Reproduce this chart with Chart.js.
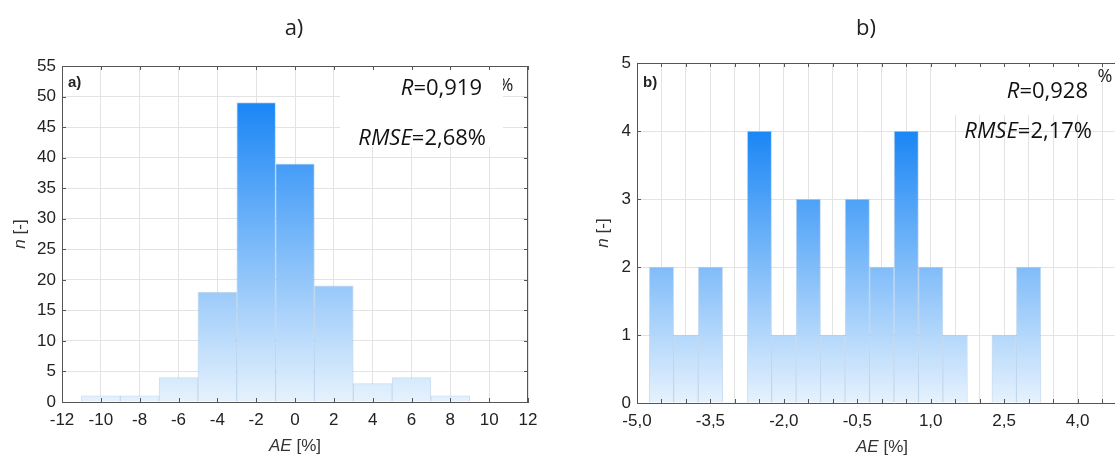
<!DOCTYPE html>
<html lang="en">
<head>
    <meta charset="UTF-8">
    <title>AE histograms</title>
    <script src="https://cdn.jsdelivr.net/npm/chart.js"></script>
    <style>
        html, body { margin: 0; padding: 0; width: 1115px; height: 457px; overflow: hidden; background: #fff; }
        .panel { position: absolute; top: 0; height: 457px; }
        #panelA { left: 0; width: 560px; }
        #panelB { left: 560px; width: 600px; }   /* runs past the window edge, like the cropped figure */
    </style>
</head>
<body>
    <div class="panel" id="panelA"><canvas id="histA"></canvas></div>
    <div class="panel" id="panelB"><canvas id="histB"></canvas></div>

    <script>
        // a) bin centres (2 % wide bins) and counts
        const binsA = [-10, -8, -6, -4, -2, 0, 2, 4, 6, 8];
        const countsA = [1, 1, 4, 18, 49, 39, 19, 3, 4, 1];

        // b) bin centres (0.5 % wide bins) and counts
        const binsB = [-4.5, -4, -3.5, -3, -2.5, -2, -1.5, -1, -0.5, 0, 0.5, 1, 1.5, 2, 2.5, 3];
        const countsB = [2, 1, 2, 0, 4, 1, 3, 1, 3, 2, 4, 2, 1, 0, 1, 2];
        const xLabelsB = [-5.0, -3.5, -2.0, -0.5, 1.0, 2.5, 4.0];

        // fit statistics shown in the corner
        const statsA = ['0,919', '2,68%'];
        const statsB = ['0,928', '2,17%'];

        const tickFont = { family: 'Liberation Sans, Arial, sans-serif', size: 17 };
        const statFamily = '"Open Sans", sans-serif';

        // text made of [string, italic] pieces
        function drawParts(ctx, parts, x, y, size, family, align) {
            let total = 0;
            parts.forEach(p => {
                ctx.font = (p[1] ? 'italic ' : '') + size + 'px ' + family;
                total += ctx.measureText(p[0]).width;
            });
            let cx = align === 'right' ? x - total : x - total / 2;
            ctx.textAlign = 'left';
            ctx.textBaseline = 'middle';
            parts.forEach(p => {
                ctx.font = (p[1] ? 'italic ' : '') + size + 'px ' + family;
                ctx.fillText(p[0], cx, y);
                cx += ctx.measureText(p[0]).width;
            });
        }

        const frame = {
            id: 'frame',
            beforeDatasetsDraw(chart, args, o) {
                const ctx = chart.ctx;
                ctx.save();
                // stray "%" of the original label, partly hidden by the white box
                ctx.fillStyle = '#222';
                ctx.font = '18px ' + statFamily;
                ctx.textAlign = 'center';
                ctx.textBaseline = 'middle';
                ctx.fillText('%', o.pct[0], o.pct[1]);
                ctx.fillStyle = '#fff';
                ctx.fillRect(o.box[0], o.box[1], o.box[2], o.box[3]);
                ctx.restore();
            },
            afterDraw(chart, args, o) {
                const { ctx, chartArea: a, scales: { x, y } } = chart;
                ctx.save();
                ctx.strokeStyle = '#555';
                ctx.lineWidth = 1;
                ctx.beginPath();
                const top = Math.round(a.top) + 0.5, right = Math.round(a.right) - 0.5;
                ctx.moveTo(a.left, top); ctx.lineTo(a.right, top);
                ctx.moveTo(right, a.top); ctx.lineTo(right, a.bottom);
                // inward tick marks on all four sides
                x.ticks.forEach((t, i) => {
                    const px = Math.round(x.getPixelForTick(i)) + 0.5;
                    ctx.moveTo(px, a.bottom); ctx.lineTo(px, a.bottom - 4);
                    ctx.moveTo(px, a.top); ctx.lineTo(px, a.top + 4);
                });
                y.ticks.forEach((t, i) => {
                    const py = Math.round(y.getPixelForTick(i)) + 0.5;
                    ctx.moveTo(a.left, py); ctx.lineTo(a.left + 4, py);
                    ctx.moveTo(a.right, py); ctx.lineTo(a.right - 4, py);
                });
                ctx.stroke();

                // panel tag inside the plot
                ctx.fillStyle = '#222';
                ctx.font = 'bold 15px Liberation Sans, Arial, sans-serif';
                ctx.textAlign = 'left';
                ctx.textBaseline = 'middle';
                ctx.fillText(o.tag, a.left + 6, 83);

                // title above the plot
                ctx.font = '22px ' + statFamily;
                ctx.textAlign = 'center';
                ctx.fillText(o.title, o.titleX, 29);

                // statistics
                ctx.fillStyle = '#111';
                drawParts(ctx, [['R', true], ['=' + o.stats[0], false]], o.statX, o.statY[0], 22, statFamily, 'right');
                drawParts(ctx, [['RMSE', true], ['=' + o.stats[1], false]], o.statX + 4, o.statY[1], 22, statFamily, 'right');

                // axis titles
                ctx.fillStyle = '#333';
                drawParts(ctx, [['AE', true], [' [%]', false]], o.xTitle[0], o.xTitle[1], 17, tickFont.family, 'center');
                ctx.translate(o.yTitleX, (a.top + a.bottom) / 2);
                ctx.rotate(-Math.PI / 2);
                drawParts(ctx, [['n', true], [' [-]', false]], 0, 0, 17, tickFont.family, 'center');
                ctx.restore();
            }
        };

        function barFill(counts) {
            return (c) => {
                const chart = c.chart;
                if (!chart.chartArea) return '#9cc9f5';
                const ys = chart.scales.y;
                const g = chart.ctx.createLinearGradient(0, ys.getPixelForValue(0), 0, ys.getPixelForValue(Math.max(...counts)));
                g.addColorStop(0, '#e6f2fd');
                g.addColorStop(1, '#1a86f5');
                return g;
            };
        }

        function makeHist(id, bins, counts, sc, layout, frameOpts) {
            return new Chart(document.getElementById(id), {
                type: 'bar',
                data: {
                    datasets: [{
                        data: bins.map((b, i) => ({ x: b, y: counts[i] })),
                        backgroundColor: barFill(counts),
                        borderColor: 'rgba(110, 160, 215, 0.35)',
                        borderWidth: (c) => (c.raw && c.raw.y ? 1 : 0),
                        categoryPercentage: 1,
                        barPercentage: 1
                    }]
                },
                options: {
                    responsive: true,
                    maintainAspectRatio: false,
                    animation: false,
                    layout: { padding: layout.padding },
                    plugins: { legend: { display: false }, tooltip: { enabled: false }, frame: frameOpts },
                    scales: {
                        x: {
                            type: 'linear',
                            offset: false,
                            min: sc.xMin, max: sc.xMax,
                            grid: { color: '#e3e3e3', drawTicks: false, offset: false },
                            border: { color: '#555' },
                            ticks: {
                                stepSize: sc.xStep,
                                autoSkip: false, maxRotation: 0, minRotation: 0,
                                padding: 8, color: '#222', font: tickFont,
                                callback: sc.xLabel
                            },
                            afterFit: (s) => { s.height = layout.xHeight; }
                        },
                        y: {
                            min: 0, max: sc.yMax,
                            grid: { color: '#e3e3e3', drawTicks: false },
                            border: { color: '#555' },
                            ticks: { stepSize: sc.yStep, padding: layout.yPad, color: '#222', font: tickFont },
                            afterFit: (s) => { s.width = layout.yWidth; }
                        }
                    }
                },
                plugins: [frame]
            });
        }

        // a)
        makeHist('histA', binsA, countsA,
            { xMin: -12, xMax: 12, xStep: 2, yMax: 55, yStep: 5, xLabel: (v) => v },
            { padding: { top: 66, right: 32, left: 0, bottom: 0 }, xHeight: 55, yWidth: 62, yPad: 6 },
            { tag: 'a)', title: 'a)', titleX: 294, stats: statsA, statX: 482, statY: [89, 139],
              pct: [506, 86], box: [340, 67, 163, 80], xTitle: [295, 446], yTitleX: 20 });

        // b)
        makeHist('histB', binsB, countsB,
            { xMin: -5, xMax: 5.5, xStep: 0.5, yMax: 5, yStep: 1,
              xLabel: (v) => (xLabelsB.some(l => Math.abs(l - v) < 1e-6) ? v.toFixed(1).replace('.', ',') : '') },
            { padding: { top: 63, right: 9, left: 0, bottom: 0 }, xHeight: 54, yWidth: 77, yPad: 6 },
            { tag: 'b)', title: 'b)', titleX: 306, stats: statsB, statX: 528, statY: [92, 132],
              pct: [545, 77], box: [375, 64, 158, 51], xTitle: [322, 447], yTitleX: 43 });
    </script>
</body>
</html>
